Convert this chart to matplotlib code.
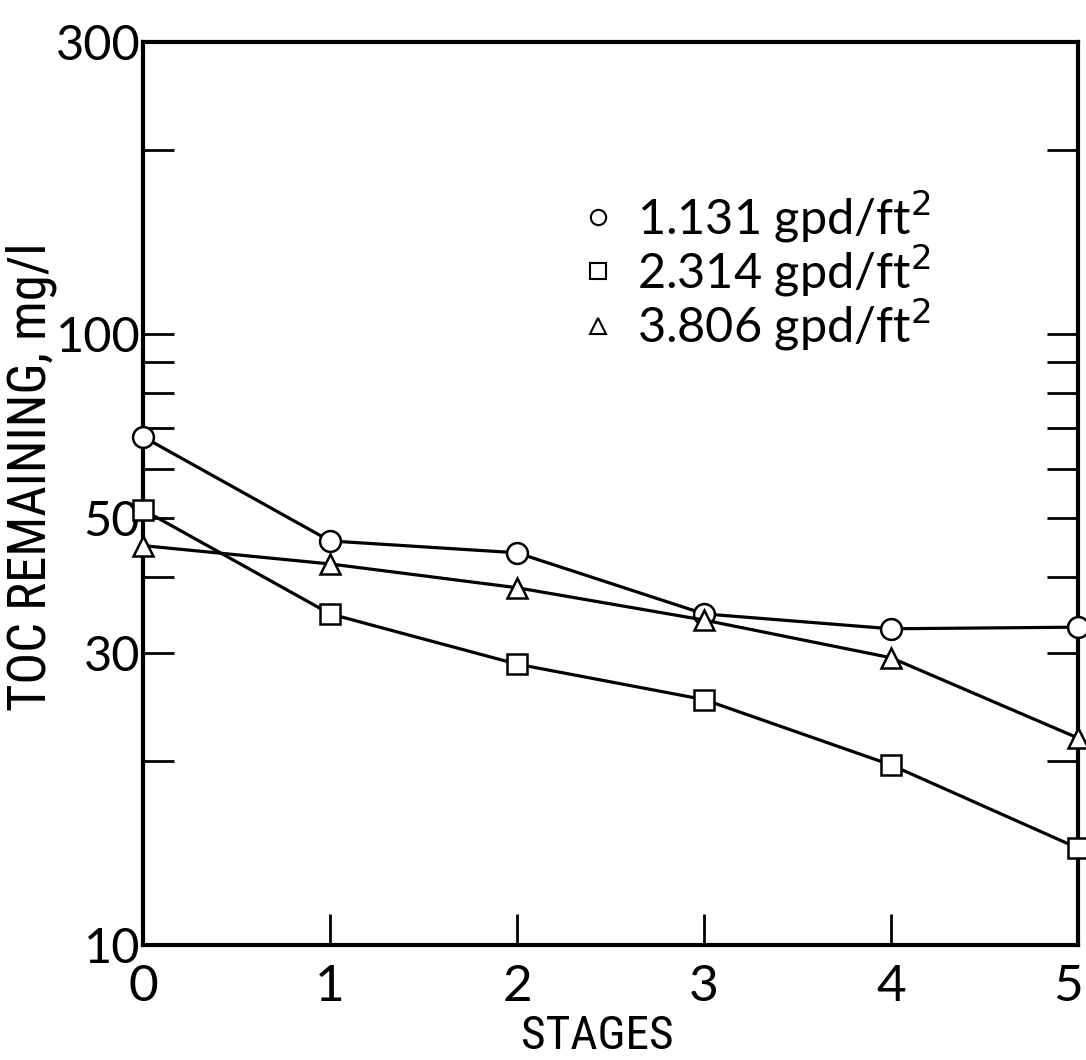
import matplotlib
matplotlib.use("Agg")
import matplotlib.pyplot as plt
import matplotlib.transforms as mtrans
from matplotlib.lines import Line2D

plt.rcParams['font.family'] = ['Lato', 'DejaVu Sans']
cond = ['Roboto Condensed', 'DejaVu Sans Condensed', 'Liberation Sans Narrow', 'Lato']

stages = [0, 1, 2, 3, 4, 5]
toc_1131 = [67.8, 45.8, 43.8, 34.8, 32.9, 33.1]
toc_2314 = [51.5, 34.8, 28.8, 25.2, 19.7, 14.4]
toc_3806 = [45.0, 42.0, 38.4, 34.0, 29.5, 21.8]
labels = ["1.131 gpd/ft$^2$", "2.314 gpd/ft$^2$", "3.806 gpd/ft$^2$"]
y_major = [10, 30, 50, 100, 300]
y_minor = [20, 40, 60, 70, 80, 90, 200]
x_ticks = [0, 1, 2, 3, 4, 5]

fig = plt.figure(figsize=(10.86, 10.6), dpi=100)
ax = fig.add_axes([0.1317, 0.1085, 0.861, 0.852])

series = [(toc_1131, 'o'), (toc_2314, 's'), (toc_3806, '^')]
for vals, m in series:
    ax.plot(stages, vals, color='black', lw=2.3, marker=m, ms=15,
            mfc='white', mec='black', mew=1.8, clip_on=False, zorder=3)

ax.set_yscale('log')
ax.set_ylim(10, 300)
ax.set_xlim(0, 5)
ax.set_yticks(y_major)
ax.set_yticklabels([str(v) for v in y_major])
ax.set_yticks(y_minor, minor=True)
ax.set_yticklabels([], minor=True)
ax.set_xticks(x_ticks)
ax.set_xticklabels([str(v) for v in x_ticks])

ax.tick_params(axis='y', which='both', direction='in', length=22, width=2,
               left=True, right=True, labelsize=35, pad=2)
ax.tick_params(axis='x', which='both', direction='in', length=22, width=2,
               bottom=True, top=False, labelsize=37, pad=14)
for s in ax.spines.values():
    s.set_linewidth(3)

last = ax.get_xticklabels()[-1]
last.set_transform(last.get_transform() +
                   mtrans.ScaledTranslation(-10 / 100, 0, fig.dpi_scale_trans))

fig.text(597 / 1086, 1 - 1036 / 1060, "STAGES", family=cond, fontsize=34,
         ha='center', va='center')
fig.text(31 / 1086, 1 - 477 / 1060, "TOC REMAINING, mg/l", family=cond,
         fontsize=38, rotation=90, ha='center', va='center')

handles = [Line2D([], [], ls='none', marker=m, ms=11, mfc='white',
                  mec='black', mew=1.5) for _, m in series]
ax.legend(handles, labels, loc='upper left', bbox_to_anchor=(0.445, 0.86),
          frameon=False, fontsize=35, handletextpad=0.4, labelspacing=-0.05,
          handlelength=0.8, borderaxespad=0)

fig.savefig("out.png", dpi=100)
